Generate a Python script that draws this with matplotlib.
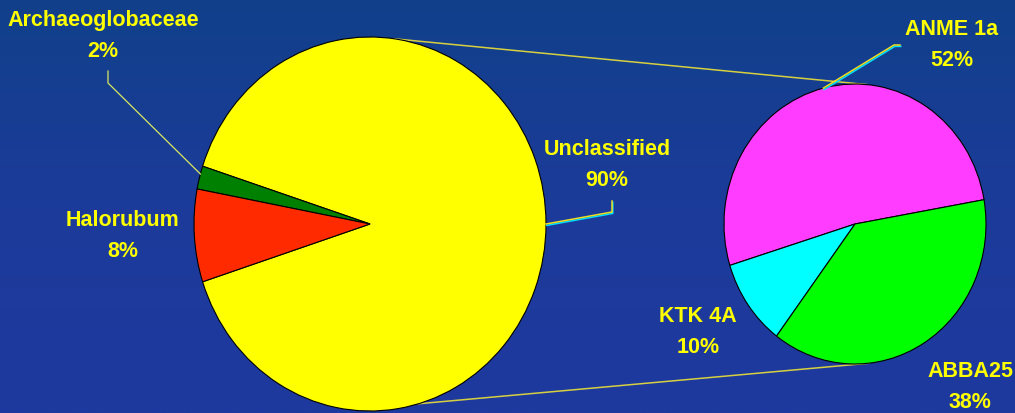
import numpy as np
import matplotlib
matplotlib.use("Agg")
import matplotlib.pyplot as plt
from matplotlib.colors import LinearSegmentedColormap

# ---- data ----
main_labels = ["Unclassified", "Archaeoglobaceae", "Halorubum"]
main_values = [90, 2, 8]
main_colors = ["#FFFF00", "#008000", "#FF2A00"]

sub_labels = ["ANME 1a", "KTK 4A", "ABBA25"]
sub_values = [52, 10, 38]
sub_colors = ["#FF3CFF", "#00FFFF", "#00FF00"]

W, H = 1015, 414
fig = plt.figure(figsize=(W / 100, H / 100), dpi=100)

# background gradient
bg = fig.add_axes([0, 0, 1, 1])
grad = np.linspace(0, 1, 256).reshape(-1, 1)
cmap = LinearSegmentedColormap.from_list("bg", ["#11408A", "#1C3B9A", "#1F399F"])
bg.imshow(grad, aspect="auto", cmap=cmap, extent=[0, W, H, 0])
bg.set_xlim(0, W)
bg.set_ylim(H, 0)
bg.axis("off")

# pie geometry (pixels)
L_C, L_RX, L_RY = (370, 225), 176, 187
R_C, R_RX, R_RY = (855, 225), 131, 140


def pie_axes(c, rx, ry):
    ax = fig.add_axes([(c[0] - rx) / W, (H - c[1] - ry) / H, 2 * rx / W, 2 * ry / H])
    return ax


axL = pie_axes(L_C, L_RX, L_RY)
axL.pie(main_values, colors=main_colors, startangle=-162, counterclock=True,
        wedgeprops=dict(edgecolor="black", linewidth=0.8), radius=1)
axL.set_aspect("auto")
axL.set_xlim(-1, 1)
axL.set_ylim(-1, 1)
axL.axis("off")

axR = pie_axes(R_C, R_RX, R_RY)
axR.pie(sub_values, colors=sub_colors, startangle=10, counterclock=True,
        wedgeprops=dict(edgecolor="black", linewidth=0.8), radius=1)
axR.set_aspect("auto")
axR.set_xlim(-1, 1)
axR.set_ylim(-1, 1)
axR.axis("off")

# overlay for lines and labels (pixel coords)
ov = fig.add_axes([0, 0, 1, 1])
ov.set_xlim(0, W)
ov.set_ylim(H, 0)
ov.axis("off")
ov.patch.set_alpha(0)


def ell(c, rx, ry, deg):
    t = np.deg2rad(deg)
    return c[0] + rx * np.cos(t), c[1] - ry * np.sin(t)


# series connector lines (drawn on the background, under the pies)
p1 = ell(L_C, L_RX, L_RY, 82)
p2 = ell(R_C, R_RX, R_RY, 85)
bg.plot([p1[0], p2[0]], [p1[1], p2[1]], color="#D6D040", lw=1.1)
p3 = ell(L_C, L_RX, L_RY, -74)
p4 = ell(R_C, R_RX, R_RY, -84)
bg.plot([p3[0], p4[0]], [p3[1], p4[1]], color="#D6D040", lw=1.1)
bg.set_xlim(0, W)
bg.set_ylim(H, 0)


def leader(pts, double=False):
    xs = [p[0] for p in pts]
    ys = [p[1] for p in pts]
    if double:
        ov.plot(np.array(xs) + 0.8, np.array(ys) + 1.4, color="#00E0FF", lw=1.1)
        ov.plot(xs, ys, color="#F0E020", lw=1.1)
    else:
        ov.plot(xs, ys, color="#D8E860", lw=0.9)


leader([(108, 72), (108, 84), ell(L_C, L_RX, L_RY, 164.5)])
leader([ell(L_C, L_RX, L_RY, 0), (612, 213), (612, 202)], double=True)
leader([ell(R_C, R_RX, R_RY, 104), (894, 46), (900, 46)], double=True)

font = dict(family=["Liberation Sans", "DejaVu Sans"], weight="bold",
            color="#FFFF00", fontsize=15.5, ha="center", va="center",
            multialignment="center", linespacing=1.6)

label_pos_main = [(607, 165), (103, 36), (123, 236)]
label_pos_sub = [(952, 45), (698, 332), (970, 387)]

for name, v, pos in zip(main_labels, main_values, label_pos_main):
    ov.text(pos[0], pos[1], f"{name}\n{v}%", **font)
for name, v, pos in zip(sub_labels, sub_values, label_pos_sub):
    ov.text(pos[0], pos[1], f"{name}\n{v}%", **font)

fig.savefig("out.png", dpi=100)
